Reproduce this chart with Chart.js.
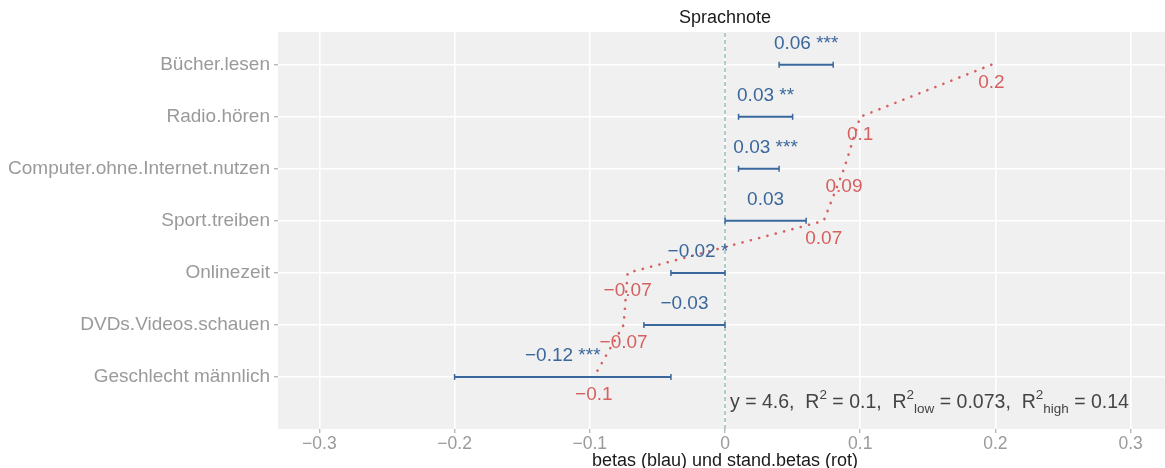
<!DOCTYPE html>
<html>
<head>
<meta charset="utf-8">
<script src="https://cdn.jsdelivr.net/npm/chart.js@4.4.1/dist/chart.umd.min.js"></script>
<style>
  html, body { margin: 0; padding: 0; background: #fff; }
</style>
</head>
<body>
<canvas id="myChart" width="1165" height="468"></canvas>
<script>
// data, top to bottom as in the plot
const categories = ['Bücher.lesen', 'Radio.hören', 'Computer.ohne.Internet.nutzen', 'Sport.treiben', 'Onlinezeit', 'DVDs.Videos.schauen', 'Geschlecht männlich'];
const betas = [0.06, 0.03, 0.03, 0.03, -0.02, -0.03, -0.12];
const stars = ['***', '**', '***', '', '*', '', '***'];
const ciLow = [0.04, 0.01, 0.01, 0.00, -0.04, -0.06, -0.20];
const ciHigh = [0.08, 0.05, 0.04, 0.06, 0.00, 0.00, -0.04];
const standBetas = [0.197, 0.100, 0.088, 0.073, -0.072, -0.075, -0.097];
const xTicks = [-0.3, -0.2, -0.1, 0, 0.1, 0.2, 0.3];
const intercept = '4.6';
const r2 = ['0.1', '0.073', '0.14'];

const FONT = '"Liberation Sans", Arial, Helvetica, sans-serif';
const BLUE = '#3a679c';
const RED = '#d65f5f';
const GREY = '#9a9a9a';

function fmt(v) {
  return String(Number(v.toFixed(2))).replace('-', '\u2212');
}
// y position of category i (top = 7)
function pos(i) { return categories.length - i; }

var datasets = [];
// error bars
categories.forEach(function (c, i) {
  datasets.push({
    type: 'line',
    order: 1,
    data: [{ x: ciLow[i], y: pos(i) }, { x: ciHigh[i], y: pos(i) }],
    borderColor: BLUE,
    borderWidth: 2,
    pointStyle: 'line',
    rotation: 90,
    pointRadius: 3,
    pointBorderWidth: 1.5,
    pointBorderColor: BLUE,
    pointHoverRadius: 3
  });
});
// stand. betas as dotted red line
datasets.push({
  type: 'line',
  order: 0,
  data: standBetas.map(function (v, i) { return { x: v, y: pos(i) }; }),
  borderColor: RED,
  borderWidth: 2.6,
  borderDash: [0.1, 8.5],
  borderCapStyle: 'round',
  pointRadius: 0,
  tension: 0
});
// zero line
datasets.push({
  type: 'line',
  order: 2,
  data: [{ x: 0, y: 0 }, { x: 0, y: 7.63 }],
  borderColor: '#5e9e97',
  borderWidth: 1,
  borderDash: [4, 3],
  pointRadius: 0
});

const extras = {
  id: 'extras',
  beforeDraw(chart) {
    const { ctx, chartArea: a } = chart;
    ctx.save();
    ctx.fillStyle = '#f0f0f0';
    ctx.fillRect(a.left, a.top, a.right - a.left, a.bottom - a.top);
    ctx.restore();
  },
  afterDatasetsDraw(chart) {
    const ctx = chart.ctx;
    const xs = chart.scales.x, ys = chart.scales.y;
    ctx.save();
    ctx.textAlign = 'center';
    ctx.textBaseline = 'middle';
    ctx.font = '19px ' + FONT;
    categories.forEach(function (c, i) {
      const py = ys.getPixelForValue(pos(i));
      ctx.fillStyle = BLUE;
      ctx.fillText(fmt(betas[i]) + (stars[i] ? ' ' + stars[i] : ''), xs.getPixelForValue(betas[i]), py - 21);
      ctx.fillStyle = RED;
      ctx.fillText(fmt(standBetas[i]), xs.getPixelForValue(standBetas[i]), py + 18);
    });
    ctx.restore();
  },
  afterDraw(chart) {
    const ctx = chart.ctx;
    const xs = chart.scales.x, ys = chart.scales.y;
    ctx.save();
    ctx.textBaseline = 'middle';
    ctx.textAlign = 'center';
    ctx.fillStyle = '#1a1a1a';
    ctx.font = '18px ' + FONT;
    ctx.fillText('Sprachnote', xs.getPixelForValue(0), 18);
    ctx.fillText('betas (blau) und stand.betas (rot)', xs.getPixelForValue(0), 461);

    // model info
    ctx.textAlign = 'left';
    ctx.fillStyle = '#444';
    var x = xs.getPixelForValue(0) + 5;
    var y = ys.getPixelForValue(0.5);
    var parts = [
      { t: 'y = ' + intercept + ',  R', s: 19.5, dy: 0 },
      { t: '2', s: 13.5, dy: -8 },
      { t: ' = ' + r2[0] + ',  R', s: 19.5, dy: 0 },
      { t: '2', s: 13.5, dy: -8 },
      { t: 'low', s: 13.5, dy: 6 },
      { t: ' = ' + r2[1] + ',  R', s: 19.5, dy: 0 },
      { t: '2', s: 13.5, dy: -8 },
      { t: 'high', s: 13.5, dy: 6 },
      { t: ' = ' + r2[2], s: 19.5, dy: 0 }
    ];
    parts.forEach(function (p) {
      ctx.font = p.s + 'px ' + FONT;
      // the subscript sits right after the superscript
      ctx.fillText(p.t, x, y + p.dy);
      x += ctx.measureText(p.t).width;
    });
    ctx.restore();
  }
};

var ctx = document.getElementById('myChart');
var myChart = new Chart(ctx, {
  type: 'line',
  data: { datasets: datasets },
  plugins: [extras],
  options: {
    responsive: false,
    animation: false,
    layout: { autoPadding: false, padding: { top: 32, right: 0, left: 0, bottom: 0 } },
    plugins: { legend: { display: false }, tooltip: { enabled: false } },
    scales: {
      x: {
        type: 'linear',
        min: -0.3306,
        max: 0.3254,
        afterBuildTicks: function (axis) { axis.ticks = xTicks.map(function (v) { return { value: v }; }); },
        afterFit: function (axis) { axis.height = 39; axis.paddingLeft = 0; axis.paddingRight = 0; },
        ticks: {
          color: GREY,
          font: { family: FONT, size: 17.5 },
          padding: 1,
          maxRotation: 0,
          callback: function (v) { return fmt(v); }
        },
        grid: { color: '#ffffff', lineWidth: 1.6, tickColor: GREY, tickLength: 4, tickWidth: 1 },
        border: { display: false }
      },
      y: {
        type: 'linear',
        min: 0,
        max: 7.63,
        afterBuildTicks: function (axis) { axis.ticks = categories.map(function (c, i) { return { value: pos(i) }; }); },
        afterFit: function (axis) { axis.width = 278; axis.paddingTop = 0; axis.paddingBottom = 0; },
        ticks: {
          color: GREY,
          font: { family: FONT, size: 19 },
          padding: 4,
          callback: function (v) { return categories[categories.length - v]; }
        },
        grid: { color: '#ffffff', lineWidth: 1.6, tickColor: GREY, tickLength: 4, tickWidth: 1 },
        border: { display: false }
      }
    }
  }
});
</script>
</body>
</html>
